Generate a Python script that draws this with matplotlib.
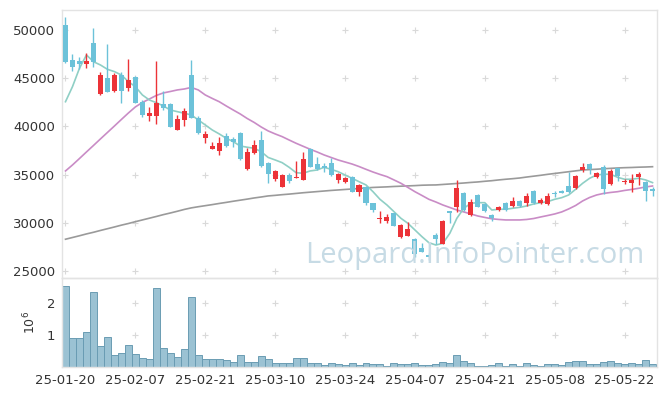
import numpy as np
import matplotlib
matplotlib.use('Agg')
import matplotlib.pyplot as plt

# tick labels every 10 trading days
tick_labels = ['25-01-20', '25-02-07', '25-02-21', '25-03-10', '25-03-24',
               '25-04-07', '25-04-21', '25-05-08', '25-05-22']

opens = [50520, 46890, 46790, 46440, 48620, 43360, 45020, 43670, 45300, 44020,
         45090, 42560, 41110, 41110, 42330, 42330, 39630, 40670, 45330, 40840,
         38830, 37660, 37480, 39010, 38670, 39350, 35550, 37280, 38590, 36240,
         34550, 33750, 34960, 34620, 34450, 37630, 36100, 35900, 36180, 34450,
         34240, 34790, 33230, 33750, 32030, 30400, 30190, 30990, 28570, 28640,
         28330, 27360, 26670, 28740, 27780, 31200, 31680, 33130, 30820, 32890,
         31960, 30820, 31330, 32090, 31750, 32270, 32030, 33300, 32090, 31960,
         33130, 33270, 33820, 33580, 35480, 36100, 34720, 35820, 34000, 35660,
         34210, 34100, 34790, 34270, 33510]
highs = [51320, 47480, 47170, 47580, 50180, 45610, 48520, 45540, 45610, 46960,
         45200, 42740, 42050, 46790, 43670, 42380, 41190, 41940, 46890, 41080,
         39560, 38420, 38870, 39290, 38870, 39390, 37730, 38590, 39560, 36340,
         35480, 35070, 35140, 36450, 37320, 37730, 36860, 36180, 36760, 35140,
         34790, 34860, 34030, 33820, 32090, 31260, 30890, 31050, 29880, 30120,
         28400, 27880, 26910, 28920, 30300, 31250, 34450, 33230, 32440, 32960,
         32030, 30920, 31750, 32200, 32720, 32370, 33070, 33410, 32550, 33070,
         33300, 33410, 35300, 34960, 36180, 36180, 35300, 36000, 35590, 35720,
         34520, 35030, 35240, 34340, 33750]
lows = [46550, 45750, 45920, 46030, 46190, 43260, 43540, 43600, 42400, 43700,
        42400, 41010, 40560, 40220, 41700, 39940, 39600, 40040, 40840, 39210,
        38310, 37630, 37040, 37830, 37900, 36520, 35480, 37140, 35820, 34100,
        34370, 33690, 34100, 34620, 34450, 35760, 35480, 35300, 34890, 34100,
        34100, 33230, 32790, 31850, 31160, 30020, 30020, 29670, 28400, 28640,
        26490, 27010, 26150, 27810, 27780, 29950, 31100, 31260, 30740, 31610,
        31160, 30220, 31260, 31260, 31680, 31680, 31750, 31960, 31960, 31850,
        32720, 33070, 33130, 33510, 35300, 35070, 34690, 32990, 33930, 34370,
        34000, 33230, 33930, 32270, 32790]
closes = [46710, 46190, 46510, 46790, 46650, 45330, 43570, 45330, 43670, 44820,
          42460, 41190, 41360, 42430, 41880, 39970, 40770, 41600, 40910, 39290,
          39180, 37970, 38250, 37970, 38420, 36590, 37380, 38070, 35900, 35070,
          35380, 34960, 34370, 34760, 36620, 35820, 35550, 35720, 34960, 35070,
          34650, 33230, 33930, 32090, 31330, 30540, 30640, 29670, 29780, 29360,
          26770, 27010, 26430, 28330, 30190, 31050, 33650, 31330, 32200, 31680,
          31260, 30470, 31610, 31330, 32270, 31750, 32790, 32030, 32370, 32790,
          32960, 33130, 33230, 34860, 35820, 35590, 35140, 33480, 35410, 34860,
          34270, 34450, 35070, 33300, 33340]
volumes = [2530000, 900000, 900000, 1080000, 2330000, 650000, 930000, 370000, 430000, 680000,
           400000, 270000, 240000, 2460000, 580000, 430000, 300000, 550000, 2180000, 370000,
           240000, 240000, 240000, 210000, 150000, 370000, 150000, 150000, 330000, 240000,
           120000, 120000, 120000, 270000, 270000, 120000, 120000, 50000, 120000, 80000,
           50000, 120000, 50000, 120000, 80000, 80000, 20000, 120000, 80000, 80000,
           120000, 50000, 50000, 80000, 150000, 120000, 370000, 180000, 120000, 20000,
           20000, 50000, 120000, 20000, 80000, 20000, 120000, 50000, 20000, 80000,
           80000, 50000, 150000, 180000, 180000, 80000, 80000, 150000, 180000, 120000,
           80000, 120000, 80000, 210000, 80000]
ma5 = [42560, 44120, 46030, 47410, 46710, 46370, 45920, 45680, 45330, 44640,
       44120, 43260, 42740, 42460, 42120, 41700, 41530, 41360, 41190, 40670,
       40150, 39630, 39220, 38770, 38420, 37970, 37840, 37730, 37380, 36780,
       36520, 36240, 35760, 35200, 35140, 35380, 35480, 35760, 35550, 35310,
       34960, 34620, 34270, 33930, 33230, 32440, 31850, 31160, 30470, 29950,
       29260, 28570, 27940, 27700, 27880, 28920, 30470, 31510, 32030, 32090,
       32090, 31330, 31410, 31410, 31510, 31610, 31750, 31960, 32090, 32200,
       32440, 32610, 32890, 33480, 34100, 34620, 34960, 35040, 35040, 34720,
       34520, 34520, 34620, 34450, 34170]
ma20 = [35380, 36000, 36670, 37350, 38020, 38700, 39370, 40040, 40720, 41390,
        42020, 42480, 42840, 43210, 43470, 43620, 43780, 43880, 44040, 43780,
        43260, 42900, 42560, 42120, 41700, 41290, 40820, 40410, 39940, 39530,
        39220, 38940, 38590, 38250, 37940, 37630, 37350, 37040, 36780, 36520,
        36310, 36100, 35840, 35550, 35270, 35020, 34790, 34450, 34100, 33670,
        33230, 32840, 32440, 32160, 31850, 31590, 31330, 31130, 30920, 30710,
        30560, 30420, 30350, 30300, 30300, 30300, 30350, 30450, 30610, 30760,
        30920, 31130, 31440, 31800, 32270, 32630, 32890, 33050, 33150, 33230,
        33360, 33460, 33580, 33720, 33820]
ma_long = [28300, 28480, 28660, 28850, 29020, 29210, 29390, 29570, 29760, 29930,
           30120, 30300, 30480, 30660, 30850, 31020, 31200, 31390, 31550, 31670,
           31780, 31890, 32010, 32120, 32240, 32350, 32460, 32580, 32680, 32790,
           32850, 32920, 32980, 33050, 33120, 33180, 33240, 33300, 33360, 33410,
           33460, 33510, 33560, 33620, 33670, 33700, 33730, 33770, 33800, 33830,
           33860, 33900, 33920, 33930, 33980, 34030, 34080, 34130, 34190, 34240,
           34310, 34370, 34450, 34520, 34580, 34650, 34750, 34840, 34930, 35030,
           35120, 35210, 35300, 35390, 35480, 35520, 35560, 35610, 35650, 35690,
           35720, 35740, 35770, 35790, 35820]

UP = '#ec3338'
DOWN = '#6cc2d9'
GRID = '#d9d9d9'
SPINE = '#e3e3e3'

plt.rcParams['font.family'] = ['DejaVu Sans']
plt.rcParams['font.size'] = 9

x = np.arange(len(opens))
o = np.array(opens); h = np.array(highs); l = np.array(lows); c = np.array(closes)
up = c >= o
colors = np.where(up, UP, DOWN)

fig = plt.figure(figsize=(6.65, 3.96), dpi=100)
ax = fig.add_axes([62/665, 1-278/396, 595/665, 268/396])
axv = fig.add_axes([62/665, 1-367/396, 595/665, 89/396], sharex=ax)

# watermark
fig.text(475/665, 1-255/396, 'Leopard.InfoPointer.com', color='#c7dbe5',
         fontsize=21, ha='center', va='center', family='Open Sans', zorder=0)

# moving averages
ax.plot(x, ma_long, color='#9a9a9a', lw=1.2, zorder=2)
ax.plot(x, ma20, color='#c98cc6', lw=1.2, zorder=2)
ax.plot(x, ma5, color='#8fcfc5', lw=1.2, zorder=2)

# candles
ax.vlines(x, l, h, colors=colors, lw=1, zorder=3)
body_h = np.maximum(np.abs(c - o), 80)
ax.bar(x, body_h, bottom=np.minimum(o, c), width=0.72, color=colors,
       linewidth=0, zorder=4)

# volume
axv.bar(x, volumes, width=1.0, color='#9bc2d3', edgecolor='#6a9cb3', linewidth=0.7)

ax.set_xlim(-0.5, 84.64)
ax.set_ylim(24280, 52070)
ax.set_yticks(range(25000, 50001, 5000))
axv.set_ylim(0, 2780000)
axv.set_yticks([1000000, 2000000])
axv.set_yticklabels(['1', '2'])
axv.set_ylabel('$10^6$', color='#333333', labelpad=6)

ticks = np.arange(0, len(opens), 10)
axv.set_xticks(ticks)
axv.set_xticklabels(tick_labels)
plt.setp(ax.get_xticklabels(), visible=False)

# "+" grid marks
gx, gy = np.meshgrid(ticks, np.arange(25000, 50001, 5000))
ax.plot(gx.ravel(), gy.ravel(), '+', color=GRID, ms=4, mew=0.8, zorder=1)
gx, gy = np.meshgrid(ticks, [1000000, 2000000])
axv.plot(gx.ravel(), gy.ravel(), '+', color=GRID, ms=4, mew=0.8, zorder=0)

for a in (ax, axv):
    a.set_facecolor('none')
    for s in a.spines.values():
        s.set_color(SPINE)
        s.set_linewidth(1)
    a.tick_params(length=0, colors='#333333', labelsize=9.5, pad=5)

fig.savefig('out.png', dpi=100)
